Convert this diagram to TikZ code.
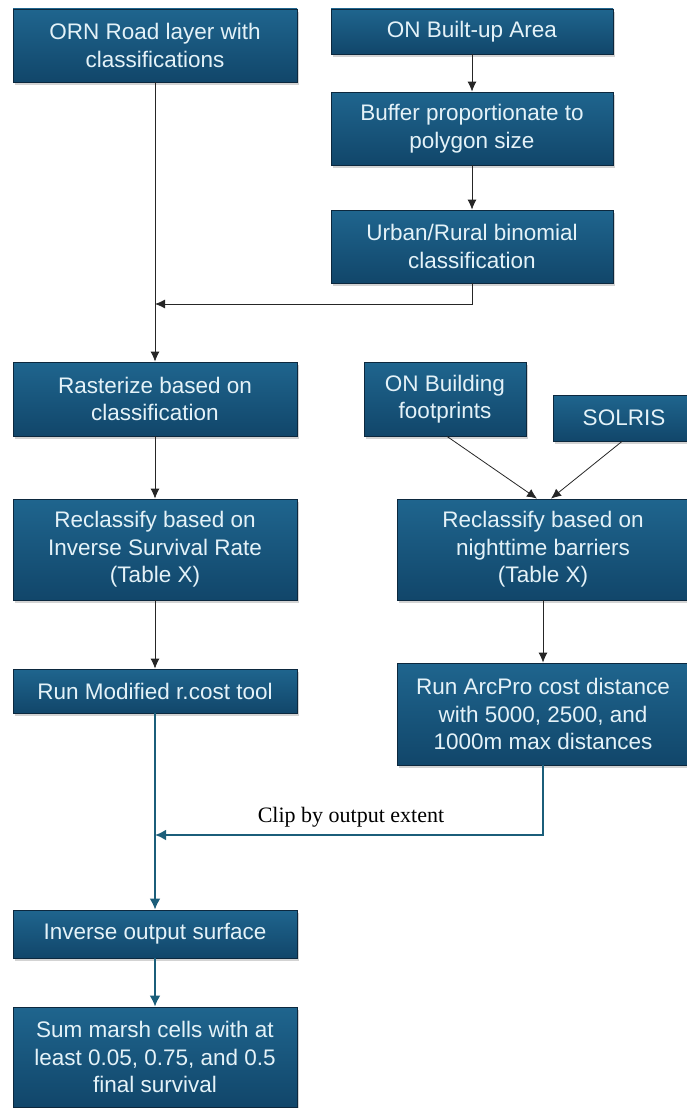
\documentclass[tikz,border=0pt]{standalone}
\usepackage{fontspec}
\setmainfont{Liberation Sans}
\newfontfamily\clipserif{Liberation Serif}
\usetikzlibrary{positioning,calc,arrows.meta,shadows}
\definecolor{boxtop}{RGB}{31,101,142}
\definecolor{boxbot}{RGB}{17,70,106}
\definecolor{boxline}{RGB}{12,40,62}
\definecolor{flowteal}{RGB}{27,94,122}
\definecolor{boxtext}{RGB}{228,242,248}
\tikzset{procbox/.style={draw=boxline,line width=0.8pt,top color=boxtop,bottom color=boxbot,text=boxtext,align=center,inner sep=0pt,font=\fontsize{22.5}{27.5}\selectfont,drop shadow={shadow xshift=2pt,shadow yshift=-3pt,opacity=0.35,fill=gray}}  }
\tikzset{thinflow/.style={draw=black!85,line width=0.8pt,-{Latex[length=10pt,width=9pt]}}  }
\tikzset{tealflow/.style={draw=flowteal,line width=2.6pt,-{Latex[length=11pt,width=11pt]}}  }

\begin{document}
\begin{tikzpicture}[x=1pt,y=-1pt]
\useasboundingbox (0,0) rectangle (687,1108);

% left column
\node[procbox,minimum width=284pt,minimum height=73pt] (orn) at (155,45.5) {ORN Road layer with\\classifications};
\node[procbox,minimum width=284pt,minimum height=74pt] (raster) at (155,399) {Rasterize based on\\classification};
\node[procbox,minimum width=284pt,minimum height=101pt] (reclassL) at (155,549.5) {Reclassify based on\\Inverse Survival Rate\\(Table X)};
\node[procbox,minimum width=284pt,minimum height=44pt] (runmod) at (155,691) {Run Modified r.cost tool};
\node[procbox,minimum width=284pt,minimum height=48pt] (inverse) at (155,934) {Inverse output surface};
\node[procbox,minimum width=284pt,minimum height=100pt] (summ) at (155,1057) {Sum marsh cells with at\\least 0.05, 0.75, and 0.5\\final survival};

% right column
\node[procbox,minimum width=282pt,minimum height=45pt] (builtup) at (472,31.5) {ON Built-up Area};
\node[procbox,minimum width=282pt,minimum height=73pt] (buffer) at (472,128.5) {Buffer proportionate to\\polygon size};
\node[procbox,minimum width=282pt,minimum height=73pt] (urban) at (472,246.5) {Urban/Rural binomial\\classification};
\node[procbox,minimum width=162pt,minimum height=74pt] (footprint) at (445,399) {ON Building\\footprints};
\node[procbox,minimum width=142pt,minimum height=46pt] (solris) at (624,418) {SOLRIS};
\node[procbox,minimum width=292pt,minimum height=101pt] (reclassR) at (543,549.5) {Reclassify based on\\nighttime barriers\\(Table X)};
\node[procbox,minimum width=292pt,minimum height=102pt] (arcpro) at (543,714) {Run ArcPro cost distance\\with 5000, 2500, and\\1000m max distances};

\coordinate (merge) at (155,304);
\coordinate (clipjoin) at (155,835);

\draw[thinflow] (builtup) -- (buffer);
\draw[thinflow] (buffer) -- (urban);
\draw[thinflow] (urban.south) |- (merge);
\draw[thinflow] (orn) -- (raster);
\draw[thinflow] (raster) -- (reclassL);
\draw[thinflow] (reclassL) -- (runmod);
\draw[thinflow] ($(footprint.south)+(2,0)$) -- ($(reclassR.north)+(-6,0)$);
\draw[thinflow] ($(solris.south)+(-2,0)$) -- ($(reclassR.north)+(8,0)$);
\draw[thinflow] (reclassR) -- (arcpro);

\draw[tealflow] (runmod) -- (inverse);
\draw[tealflow] (arcpro.south) |- (clipjoin);
\draw[tealflow] (inverse) -- (summ);
\node[font=\clipserif\fontsize{22}{26}\selectfont] (cliplabel) at (351,817) {Clip by output extent};
\end{tikzpicture}
\end{document}
